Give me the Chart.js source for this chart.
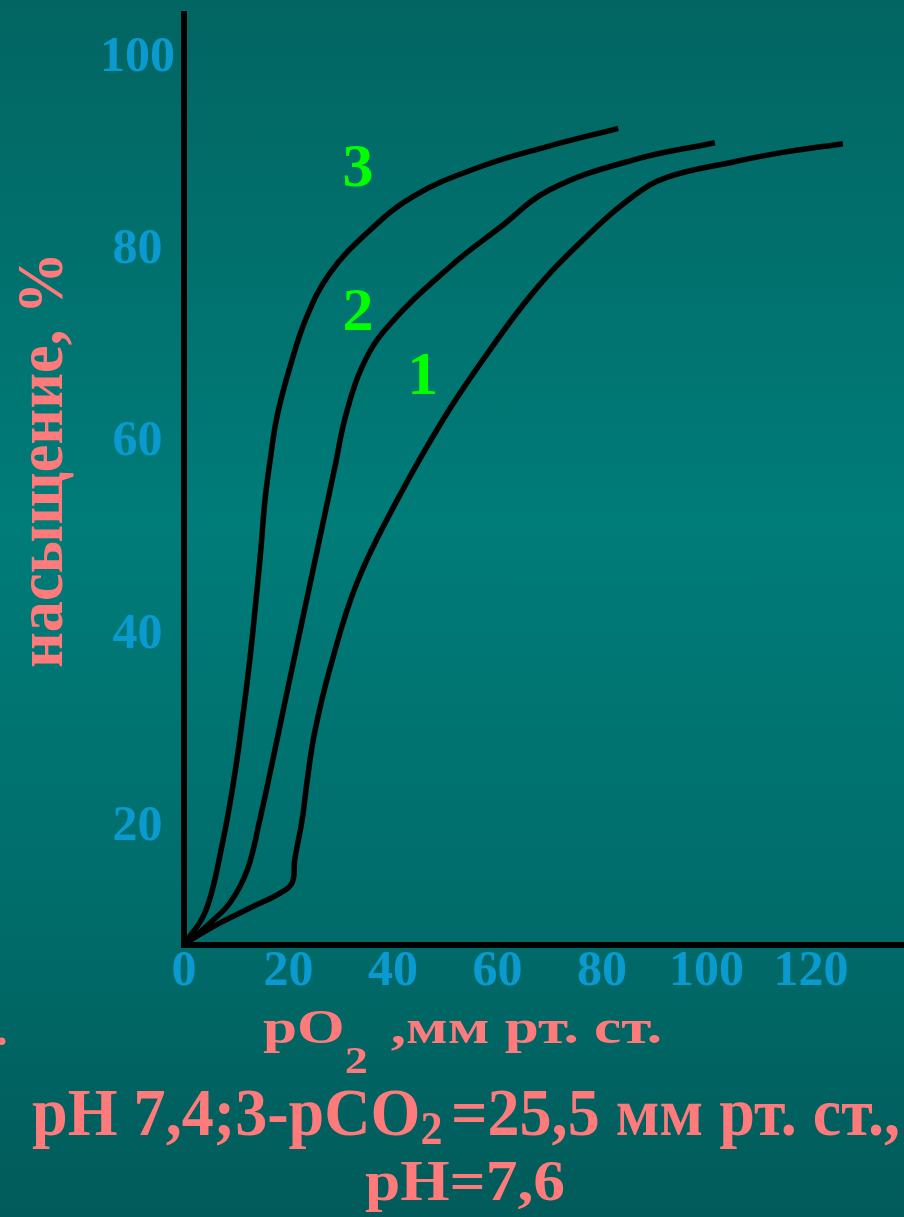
<!DOCTYPE html>
<html>
<head>
<meta charset="utf-8">
<script src="https://cdn.jsdelivr.net/npm/chart.js@4"></script>
<style>
  html, body { margin: 0; padding: 0; }
  body {
    width: 904px; height: 1217px; overflow: hidden;
    background: linear-gradient(to bottom, #026562 0%, #007c79 43%, #006c6a 75%, #015b5a 100%);
  }
  canvas { display: block; }
</style>
</head>
<body>
<canvas id="odc" width="904" height="1217"></canvas>
<script>
// Кривые диссоциации оксигемоглобина (1, 2, 3)
const xTicks = [0, 20, 40, 60, 80, 100, 120];
const yTicks = [20, 40, 60, 80, 100];

const po2Curve1 = [0, 0.6, 6.9, 13.2, 18.4, 20.7, 21.2, 22.6, 23.6, 25.0, 28.0, 33.1, 40.8, 49.6, 57.2, 66.8, 76.4, 85.9, 92.4, 105.1, 114.6, 126.1];
const satCurve1 = [7.7, 8.0, 10.0, 11.7, 13.1, 14.2, 16.6, 20.7, 24.9, 29.8, 36.6, 45.4, 54.0, 62.4, 68.6, 75.6, 81.1, 85.6, 87.6, 89.2, 90.2, 91.1];

const po2Curve2 = [0, 1.2, 5.0, 8.8, 12.1, 14.5, 16.7, 19.4, 22.8, 26.2, 28.9, 30.9, 34.1, 38.9, 50.9, 60.5, 70.0, 85.9, 101.6];
const satCurve2 = [7.7, 8.2, 10.0, 12.1, 15.5, 20.7, 26.2, 33.2, 41.9, 50.6, 57.5, 62.7, 67.9, 72.0, 78.3, 82.4, 86.3, 89.4, 91.2];

const po2Curve3 = [0, 0.6, 3.6, 5.4, 7.1, 8.6, 10.0, 11.3, 12.6, 13.8, 14.7, 15.5, 16.5, 17.8, 20.3, 23.5, 27.9, 35.0, 43.8, 56.7, 69.5, 83.1];
const satCurve3 = [7.7, 8.2, 10.6, 13.4, 17.6, 21.8, 26.5, 31.7, 37.4, 43.7, 48.8, 54.0, 58.2, 62.7, 67.9, 73.1, 77.6, 81.8, 85.6, 88.7, 90.8, 92.7];

const curveNames = ['1', '2', '3'];
const namePo2 = [45.7, 33.3, 33.3];
const nameSat = [66.7, 73.4, 88.4];

const SERIF = '"Liberation Serif", "Times New Roman", serif';
const SALMON = '#ff7b7b';
const TICK_BLUE = '#0b9ad0';

function toPoints(xs, ys) {
    return xs.map((x, i) => ({ x: x, y: ys[i] }));
}

function curve(xs, ys) {
    return {
        data: toPoints(xs, ys),
        borderColor: '#000',
        borderWidth: 5.5,
        pointRadius: 0,
        fill: false,
        tension: 0.4
    };
}

// text pieces with subscripts, squeezed to the width they have on the slide
function drawRuns(ctx, runs, left, baseline, width) {
    let natural = 0;
    runs.forEach(r => {
        ctx.font = `bold ${r.size}px ${SERIF}`;
        r.w = ctx.measureText(r.text).width + (r.gap || 0);
        natural += r.w;
    });
    ctx.save();
    ctx.translate(left, baseline);
    ctx.scale(width / natural, 1);
    ctx.textAlign = 'left';
    ctx.textBaseline = 'alphabetic';
    let x = 0;
    runs.forEach(r => {
        ctx.font = `bold ${r.size}px ${SERIF}`;
        ctx.fillText(r.text, x, r.dy || 0);
        x += r.w;
    });
    ctx.restore();
}

const slideText = {
    id: 'slideText',
    afterDraw(chart) {
        const ctx = chart.ctx;
        const xs = chart.scales.x, ys = chart.scales.y;

        // номера кривых
        ctx.save();
        ctx.fillStyle = '#00ff00';
        ctx.font = `bold 62px ${SERIF}`;
        ctx.textAlign = 'center';
        ctx.textBaseline = 'middle';
        curveNames.forEach((n, i) => {
            ctx.fillText(n, xs.getPixelForValue(namePo2[i]), ys.getPixelForValue(nameSat[i]));
        });
        ctx.restore();

        ctx.save();
        ctx.fillStyle = SALMON;

        // подпись оси Y
        ctx.save();
        ctx.translate(62, 668);
        ctx.rotate(-Math.PI / 2);
        drawRuns(ctx, [{ text: 'насыщение, %', size: 66 }], 0, 0, 416);
        ctx.restore();

        // подпись оси X
        drawRuns(ctx, [
            { text: 'pO', size: 49 },
            { text: '2', size: 37, dy: 30, gap: 6 },
            { text: ' ,мм рт. ст.', size: 49 }
        ], 263, 1043, 399);

        ctx.font = `bold 46px ${SERIF}`;
        ctx.fillText('.', -4, 1045);

        drawRuns(ctx, [
            { text: 'pH 7,4;3-pCO', size: 67 },
            { text: '2', size: 46, dy: 9, gap: -8 },
            { text: ' =25,5 мм рт. ст.,', size: 67 }
        ], 32, 1135, 868);

        drawRuns(ctx, [{ text: 'pH=7,6', size: 58 }], 365, 1200, 200);
        ctx.restore();
    }
};

new Chart(document.getElementById('odc').getContext('2d'), {
    type: 'line',
    data: {
        datasets: [
            curve(po2Curve1, satCurve1),
            curve(po2Curve2, satCurve2),
            curve(po2Curve3, satCurve3)
        ]
    },
    options: {
        responsive: false,
        animation: false,
        layout: { padding: { top: 14, right: 0, left: 0, bottom: 0 } },
        plugins: {
            legend: { display: false },
            tooltip: { enabled: false }
        },
        scales: {
            x: {
                type: 'linear',
                min: 0,
                max: 137.8,
                afterFit: s => { s.height = 272; },
                afterBuildTicks: s => { s.ticks = xTicks.map(v => ({ value: v })); },
                grid: { display: false, drawTicks: false },
                border: { display: true, color: '#000', width: 6 },
                ticks: {
                    color: TICK_BLUE,
                    padding: 0,
                    maxRotation: 0,
                    autoSkip: false,
                    font: { family: SERIF, size: 50, weight: 'bold', lineHeight: 1.1 }
                }
            },
            y: {
                type: 'linear',
                min: 7.7,
                max: 104.6,
                afterFit: s => { s.width = 184; },
                afterBuildTicks: s => { s.ticks = yTicks.map(v => ({ value: v })); },
                grid: { display: false, drawTicks: false },
                border: { display: true, color: '#000', width: 6 },
                ticks: {
                    color: TICK_BLUE,
                    padding: 9,
                    crossAlign: 'center',
                    autoSkip: false,
                    font: { family: SERIF, size: 50, weight: 'bold', lineHeight: 0.1 }
                }
            }
        }
    },
    plugins: [slideText]
});
</script>
</body>
</html>
